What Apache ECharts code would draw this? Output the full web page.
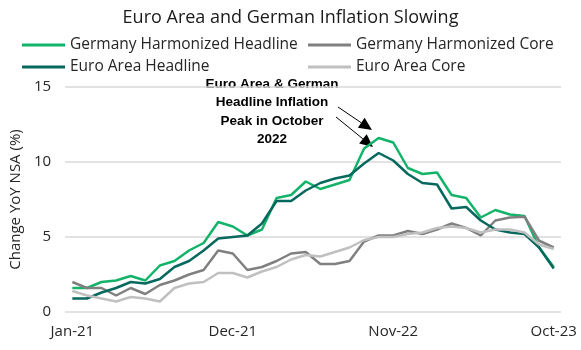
<!DOCTYPE html>
<html>
<head>
<meta charset="utf-8">
<script src="https://cdn.jsdelivr.net/npm/echarts@6/dist/echarts.min.js"></script>
<style>
  html, body { margin: 0; padding: 0; background: #fff; }
  #chart { width: 581px; height: 350px; }
</style>
</head>
<body>
<div id="chart"></div>
<script>
// 月份
const months = [
  'Jan-21', 'Feb-21', 'Mar-21', 'Apr-21', 'May-21', 'Jun-21', 'Jul-21', 'Aug-21', 'Sep-21', 'Oct-21', 'Nov-21', 'Dec-21',
  'Jan-22', 'Feb-22', 'Mar-22', 'Apr-22', 'May-22', 'Jun-22', 'Jul-22', 'Aug-22', 'Sep-22', 'Oct-22', 'Nov-22', 'Dec-22',
  'Jan-23', 'Feb-23', 'Mar-23', 'Apr-23', 'May-23', 'Jun-23', 'Jul-23', 'Aug-23', 'Sep-23', 'Oct-23'
]

// 数据 (YoY %)
const germanyHeadline = [1.6, 1.6, 2.0, 2.1, 2.4, 2.1, 3.1, 3.4, 4.1, 4.6, 6.0, 5.7,
  5.1, 5.5, 7.6, 7.8, 8.7, 8.2, 8.5, 8.8, 10.9, 11.6, 11.3, 9.6,
  9.2, 9.3, 7.8, 7.6, 6.3, 6.8, 6.5, 6.4, 4.3, 3.0]
const germanyCore = [2.0, 1.6, 1.6, 1.1, 1.6, 1.2, 1.8, 2.1, 2.5, 2.8, 4.1, 3.9,
  2.8, 3.0, 3.4, 3.9, 4.0, 3.2, 3.2, 3.4, 4.7, 5.1, 5.1, 5.4,
  5.2, 5.5, 5.9, 5.6, 5.1, 6.1, 6.3, 6.35, 4.75, 4.3]
const euroHeadline = [0.9, 0.9, 1.3, 1.6, 2.0, 1.9, 2.2, 3.0, 3.4, 4.1, 4.9, 5.0,
  5.1, 5.9, 7.4, 7.4, 8.1, 8.6, 8.9, 9.1, 9.9, 10.6, 10.1, 9.2,
  8.6, 8.5, 6.9, 7.0, 6.1, 5.5, 5.3, 5.2, 4.3, 2.9]
const euroCore = [1.4, 1.1, 0.9, 0.7, 1.0, 0.9, 0.7, 1.6, 1.9, 2.0, 2.6, 2.6,
  2.3, 2.7, 3.0, 3.5, 3.8, 3.7, 4.0, 4.3, 4.8, 5.0, 5.0, 5.2,
  5.3, 5.6, 5.7, 5.6, 5.3, 5.5, 5.5, 5.3, 4.5, 4.2]

const yTicks = [0, 5, 10, 15]

const colors = {
  germanyHeadline: '#14b36a',
  germanyCore: '#808080',
  euroHeadline: '#07695d',
  euroCore: '#c0c0c0'
}

const font = '"Open Sans", "Noto Sans", sans-serif'

// 箭头
const arrow = (x1, y1, x2, y2) => {
  const len = 13
  const half = 6
  const dx = x2 - x1
  const dy = y2 - y1
  const d = Math.sqrt(dx * dx + dy * dy)
  const ux = dx / d
  const uy = dy / d
  const bx = x2 - ux * len
  const by = y2 - uy * len
  return [
    {
      type: 'line',
      shape: { x1: x1, y1: y1, x2: bx, y2: by },
      style: { stroke: '#000', lineWidth: 1 }
    },
    {
      type: 'polygon',
      shape: { points: [[x2, y2], [bx - uy * half, by + ux * half], [bx + uy * half, by - ux * half]] },
      style: { fill: '#000' }
    }
  ]
}

const chart = echarts.init(document.getElementById('chart'))

const lineSeries = (name, data, color) => ({
  name: name,
  type: 'line',
  data: data,
  symbol: 'none',
  lineStyle: { color: color, width: 2.5 },
  itemStyle: { color: color }
})

const legendCommon = {
  orient: 'vertical',
  top: 36,
  padding: 0,
  itemWidth: 43,
  itemHeight: 3,
  itemGap: 4,
  icon: 'rect',
  textStyle: { fontFamily: font, fontSize: 15.5, color: '#262626', lineHeight: 18, padding: [0, 0, 0, 0] }
}

const option = {
  animation: false,
  title: {
    text: 'Euro Area and German Inflation Slowing',
    left: 'center',
    top: 4,
    textStyle: { fontFamily: font, fontSize: 18, fontWeight: 'normal', color: '#1a1a1a' }
  },
  legend: [
    Object.assign({}, legendCommon, { left: 22, data: ['Germany Harmonized Headline', 'Euro Area Headline'] }),
    Object.assign({}, legendCommon, { left: 308, data: ['Germany Harmonized Core', 'Euro Area Core'] })
  ],
  grid: { left: 58, right: 20, top: 87, bottom: 38 },
  xAxis: {
    type: 'category',
    data: months,
    boundaryGap: true,
    axisLine: { show: false },
    axisTick: { show: false },
    axisLabel: {
      interval: 10,
      fontFamily: font,
      fontSize: 15,
      color: '#262626',
      margin: 12
    }
  },
  yAxis: {
    type: 'value',
    min: yTicks[0],
    max: yTicks[yTicks.length - 1],
    interval: 5,
    name: 'Change YoY NSA (%)',
    nameLocation: 'middle',
    nameGap: 36,
    nameTextStyle: { fontFamily: font, fontSize: 15, color: '#262626' },
    axisLine: { show: false },
    axisTick: { show: false },
    axisLabel: { fontFamily: font, fontSize: 15, color: '#262626', margin: 14 },
    splitLine: { lineStyle: { color: '#d9d9d9', width: 1.5 } }
  },
  series: [
    lineSeries('Germany Harmonized Headline', germanyHeadline, colors.germanyHeadline),
    lineSeries('Germany Harmonized Core', germanyCore, colors.germanyCore),
    lineSeries('Euro Area Headline', euroHeadline, colors.euroHeadline),
    lineSeries('Euro Area Core', euroCore, colors.euroCore)
  ],
  graphic: [
    {
      type: 'text',
      x: 272,
      y: 75,
      style: {
        text: 'Euro Area & German\nHeadline Inflation\nPeak in October\n2022',
        textAlign: 'center',
        textVerticalAlign: 'top',
        fontFamily: '"Liberation Sans", Arial, sans-serif',
        fontWeight: 'bold',
        fontSize: 13.5,
        lineHeight: 18.5,
        fill: '#000'
      }
    }
  ].concat(arrow(338, 107, 372, 130), arrow(336, 117, 373, 147))
}

chart.setOption(option)
</script>
</body>
</html>
